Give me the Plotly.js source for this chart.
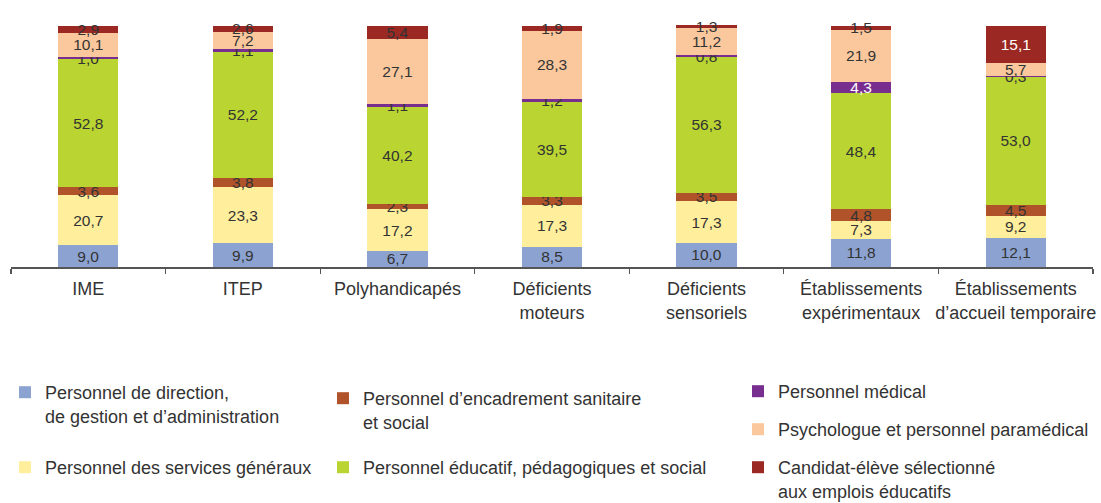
<!DOCTYPE html>
<html>
<head>
<meta charset="utf-8">
<script src="https://cdn.plot.ly/plotly-3.0.1.min.js"></script>
<style>html,body{margin:0;padding:0;background:#fff;}#chart{width:1101px;height:503px;}</style>
</head>
<body>
<div id="chart"></div>
<script>
const categories = ["IME", "ITEP", "Polyhandicapés", "Déficients<br>moteurs", "Déficients<br>sensoriels", "Établissements<br>expérimentaux", "Établissements<br>d’accueil temporaire"];

const direction   = [9.0, 9.9, 6.7, 8.5, 10.0, 11.8, 12.1];
const services    = [20.7, 23.3, 17.2, 17.3, 17.3, 7.3, 9.2];
const encadrement = [3.6, 3.8, 2.3, 3.3, 3.5, 4.8, 4.5];
const educatif    = [52.8, 52.2, 40.2, 39.5, 56.3, 48.4, 53.0];
const medical     = [1.0, 1.1, 1.1, 1.2, 0.8, 4.3, 0.3];
const psycho      = [10.1, 7.2, 27.1, 28.3, 11.2, 21.9, 5.7];
const candidat    = [2.9, 2.6, 5.4, 1.9, 1.3, 1.5, 15.1];

const seriesNames = [
  "Personnel de direction,<br>de gestion et d’administration",
  "Personnel des services généraux",
  "Personnel d’encadrement sanitaire<br>et social",
  "Personnel éducatif, pédagogiques et social",
  "Personnel médical",
  "Psychologue et personnel paramédical",
  "Candidat-élève sélectionné<br>aux emplois éducatifs"
];

const FONT = "'Liberation Sans', Arial, sans-serif";
const TEXT = "#333333";

const seriesList = [direction, services, encadrement, educatif, medical, psycho, candidat];
const colors = ["#8CA3D2", "#FFEE9C", "#B1532A", "#BAD531", "#782E8F", "#FBC89D", "#9B2823"];
// labels turn white on dark fills once the segment is tall enough
const whiteFrom = [Infinity, Infinity, Infinity, Infinity, 4, Infinity, 10];
// legend placement: [left px, line-1 centre px]
const legendPos = [[5, 391], [5, 466], [323, 397], [323, 466], [738, 390], [738, 428], [738, 466]];

const traces = seriesList.map((vals, i) => ({
  type: "bar",
  name: seriesNames[i],
  x: categories,
  y: vals,
  marker: {color: colors[i], line: {width: 0}},
  texttemplate: "%{y:.1f}",
  textposition: "inside",
  insidetextanchor: "middle",
  constraintext: "none",
  textangle: 0,
  cliponaxis: false,
  textfont: {family: FONT, size: 15.5, color: vals.map(v => v >= whiteFrom[i] ? "#ffffff" : TEXT)},
  hoverinfo: "skip",
  legend: i === 0 ? "legend" : "legend" + (i + 1)
}));

const layout = {
  width: 1101,
  height: 503,
  margin: {l: 11, r: 8, t: 25, b: 236, autoexpand: false},
  paper_bgcolor: "#ffffff",
  plot_bgcolor: "#ffffff",
  barmode: "stack",
  bargap: 0.61,
  separators: ", ",
  font: {family: FONT, color: TEXT},
  showlegend: true,
  xaxis: {
    type: "category",
    showline: true,
    linecolor: "#555555",
    linewidth: 1.5,
    ticks: "outside",
    tickson: "boundaries",
    ticklen: 5,
    tickcolor: "#555555",
    tickwidth: 1.2,
    tickangle: 0,
    ticklabelstandoff: 5,
    showgrid: false,
    zeroline: false,
    automargin: false,
    tickfont: {family: FONT, size: 18, color: TEXT},
    fixedrange: true
  },
  yaxis: {
    range: [0, 100.4],
    visible: false,
    fixedrange: true
  }
};

legendPos.forEach((p, i) => {
  const key = i === 0 ? "legend" : "legend" + (i + 1);
  layout[key] = {
    x: (p[0] - 11) / 1082,
    y: (267 - (p[1] - 17)) / 242,
    xref: "paper",
    yref: "paper",
    xanchor: "left",
    yanchor: "top",
    valign: "top",
    bgcolor: "rgba(0,0,0,0)",
    borderwidth: 0,
    font: {family: FONT, size: 18, color: TEXT},
    itemclick: false,
    itemdoubleclick: false
  };
});

Plotly.newPlot("chart", traces, layout, {displayModeBar: false, staticPlot: true});
</script>
</body>
</html>
